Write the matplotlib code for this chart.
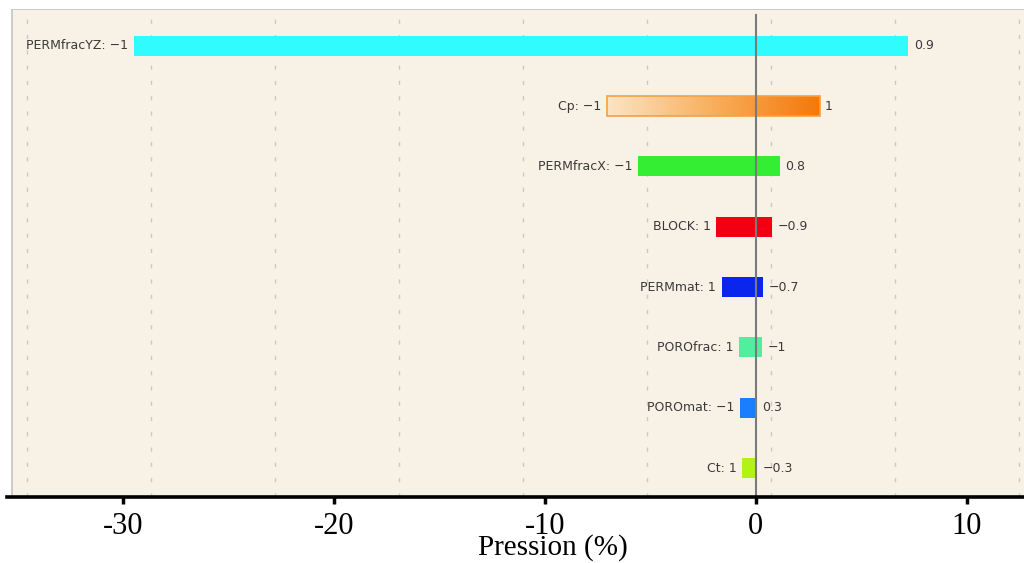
import numpy as np
import matplotlib
matplotlib.use('Agg')
import matplotlib.pyplot as plt
from matplotlib.colors import LinearSegmentedColormap
from matplotlib.lines import Line2D

# tornado data: parameter name, level label at each end, bar extent (% change)
names = ['PERMfracYZ', 'Cp', 'PERMfracX', 'BLOCK', 'PERMmat', 'POROfrac', 'POROmat', 'Ct']
left_levels = ['\u22121', '\u22121', '\u22121', '1', '1', '1', '\u22121', '1']
right_levels = ['0.9', '1', '0.8', '\u22120.9', '\u22120.7', '\u22121', '0.3', '\u22120.3']
low = [-29.46, -7.05, -5.56, -1.88, -1.61, -0.78, -0.74, -0.66]
high = [7.22, 3.02, 1.15, 0.76, 0.33, 0.31, 0.05, 0.05]
colors = ['#30fcff', None, '#33ee33', '#f20012', '#0a26ee', '#52eea0', '#1a7eff', '#b2f214']
xticks = [-30, -20, -10, 0, 10]

fig = plt.figure(figsize=(10.24, 5.63), dpi=100)
fig.patch.set_facecolor('white')
ax = fig.add_axes([7 / 1024, 66 / 563, 1 - 7 / 1024, (497 - 9) / 563])
ax.set_facecolor('white')

# beige panel with thin grey border on top / left
x0 = 4.5 / 1017
ax.add_patch(plt.Rectangle((x0, 0), 1 - x0, 1, transform=ax.transAxes,
                           facecolor='#f8f1e5', edgecolor='none', zorder=0))
ax.add_line(Line2D([x0, x0], [0, 1], transform=ax.transAxes, color='#c4c4c4', lw=1.2, zorder=1))
ax.add_line(Line2D([x0, 1], [1, 1], transform=ax.transAxes, color='#c4c4c4', lw=1.2, zorder=1))

# dashed vertical grid of the inner chart
for gx in np.arange(-34.55, 13, 5.877):
    ax.axvline(gx, color='#c9c9c9', lw=1.0, dashes=(3, 8), zorder=1)

y = np.arange(len(names))
widths = np.array(high) - np.array(low)
bar_h = 0.33

for i in range(len(names)):
    if colors[i] is None:
        # Cp bar drawn with a left-to-right gradient
        rect = ax.barh(y[i], widths[i], left=low[i], height=bar_h,
                       facecolor='none', edgecolor='#f5a040', lw=1.2, zorder=3)[0]
        cmap = LinearSegmentedColormap.from_list('cp', ['#fce4c6', '#f9ae5c', '#f4780a'])
        grad = np.linspace(0, 1, 256).reshape(1, -1)
        im = ax.imshow(grad, cmap=cmap, aspect='auto', zorder=2,
                       extent=(low[i], high[i], y[i] + bar_h / 2, y[i] - bar_h / 2))
        im.set_clip_path(rect)
    else:
        ax.barh(y[i], widths[i], left=low[i], height=bar_h, color=colors[i], zorder=2)

    ax.annotate(names[i] + ': ' + left_levels[i], (low[i], y[i]), xytext=(-4, 0),
                textcoords='offset points', ha='right', va='center',
                fontsize=9, color='#3a3a3a', family='DejaVu Sans', zorder=5)
    ax.annotate(right_levels[i], (high[i], y[i]), xytext=(4, 0),
                textcoords='offset points', ha='left', va='center',
                fontsize=9, color='#3a3a3a', family='DejaVu Sans', zorder=5)

# zero line
ax.plot([0, 0], [-0.51, 7.48], color='#7a7a7a', lw=1.5, zorder=4)

ax.set_xlim(-35.48, 12.71)
ax.set_ylim(7.48, -0.61)

for s in ['left', 'right', 'top']:
    ax.spines[s].set_visible(False)
ax.spines['bottom'].set_linewidth(2.6)
ax.spines['bottom'].set_color('black')
ax.spines['bottom'].set_zorder(6)
ax.set_yticks([])
ax.set_xticks(xticks)
ax.set_xticklabels([str(t) if t >= 0 else '-' + str(-t) for t in xticks])
ax.tick_params(axis='x', length=5, width=2.5, color='black', pad=6,
               labelsize=22, labelfontfamily='Liberation Serif')
ax.set_xlabel('Pression (%)', fontsize=21, family='Liberation Serif')
ax.xaxis.set_label_coords(0.537, -0.076)

fig.savefig('out.png', dpi=100, facecolor='white')
